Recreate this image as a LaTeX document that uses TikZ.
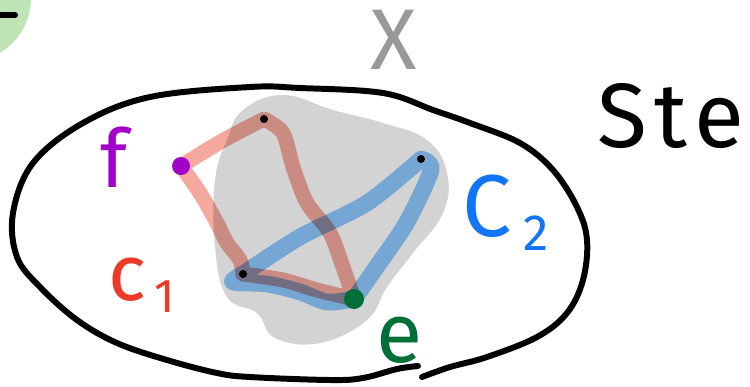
\documentclass[tikz,border=0pt]{standalone}
\usepackage{fontspec}
\setmainfont{Fira Sans}
\usepackage{tikz}
\definecolor{blobgray}{RGB}{211,211,211}
\definecolor{pathred}{RGB}{245,168,158}
\definecolor{pathblue}{RGB}{118,166,212}
\definecolor{labred}{RGB}{236,58,38}
\definecolor{labblue}{RGB}{18,116,246}
\definecolor{labpurple}{RGB}{162,0,200}
\definecolor{labgreen}{RGB}{0,112,56}
\definecolor{cornergreen}{RGB}{190,228,182}
\newcommand{\fsz}[1]{\fontsize{#1}{#1}\selectfont}

\begin{document}
\begin{tikzpicture}[x=0.02cm, y=-0.02cm,
    lab/.style={anchor=base west, inner sep=0pt},
    outline/.style={line width=3.4pt, line cap=round, line join=round},
    redline/.style={pathred, line width=8.5pt, line cap=round, line join=round, blend mode=multiply},
    blueline/.style={pathblue, line width=9.5pt, line cap=round, line join=round}]
    \useasboundingbox (0,0) rectangle (750,386);
    % corner of a neighbouring set
    \fill[cornergreen] (-33,-2) circle (64);
    \draw[line width=3.4pt, line cap=round] (-5,15) -- (15,15);
    % the space X and its set
    \node[gray!80, font=\fsz{49}] (xlab) at (394,40) {X};
    \draw[outline] plot[smooth, tension=0.6] coordinates {(418,366) (397,369) (363,378) (330,380) (250,377)
        (217,373) (167,360) (117,343) (77,320) (40,287) (17,257) (13,213) (33,163) (83,123) (150,97)
        (250,87) (300,88) (383,93) (433,110) (470,123) (520,143) (553,170) (577,207) (587,240)
        (583,280) (567,313) (537,337) (487,357) (450,367) (422,377)};
    \fill[blobgray] plot[smooth cycle, tension=0.7] coordinates {(227,140) (243,110) (283,95) (333,110)
        (383,123) (427,140) (447,173) (443,213) (413,253) (387,287) (367,320) (320,343) (275,338)
        (257,313) (227,297) (215,247) (215,180)};
    \coordinate (fpt) at (181,166); \coordinate (top) at (264,119);
    \coordinate (lft) at (243,274); \coordinate (rgt) at (421,159);
    \coordinate (ept) at (354,299);
    % path C_2
    \draw[blueline] plot[smooth] coordinates {(lft) (300,237) (367,203) (rgt)}
        -- plot[smooth] coordinates {(rgt) (431,170) (407,222) (380,262) (ept)}
        -- plot[smooth] coordinates {(ept) (327,302) (300,292) (267,284) (233,282) (lft)} -- cycle;
    % path c_1
    \draw[redline] plot[smooth] coordinates {(fpt) (222,141) (top)}
        -- plot[smooth] coordinates {(top) (283,133) (293,167) (307,203) (330,233) (343,267) (ept)}
        -- plot[smooth] coordinates {(ept) (317,290) (283,280) (lft)}
        -- plot[smooth] coordinates {(lft) (240,260) (227,243) (217,223) (200,193) (fpt)} -- cycle;
    \fill (top) circle (4); \fill (lft) circle (4); \fill (rgt) circle (4);
    \fill[labpurple] (fpt) circle (9);
    \fill[labgreen] (ept) circle (10);
    % labels
    \node[lab, labpurple, font=\fsz{46}] (flab) at (100,187) {f};
    \node[lab, labred, font=\fsz{45}] (clab) at (108,300) {c\kern5pt\raisebox{-7pt}{\fsz{27}1}};
    \node[lab, labblue, font=\fsz{50}] (Clab) at (462,236) {C\kern7pt\raisebox{-8.5pt}{\fsz{29}2}};
    \node[lab, labgreen, font=\fsz{48}] (elab) at (376,362) {e};
    \node[lab, font=\fsz{52}] (stelab) at (597,147) {S\kern4pt t\kern4pt e};
\end{tikzpicture}
\end{document}
